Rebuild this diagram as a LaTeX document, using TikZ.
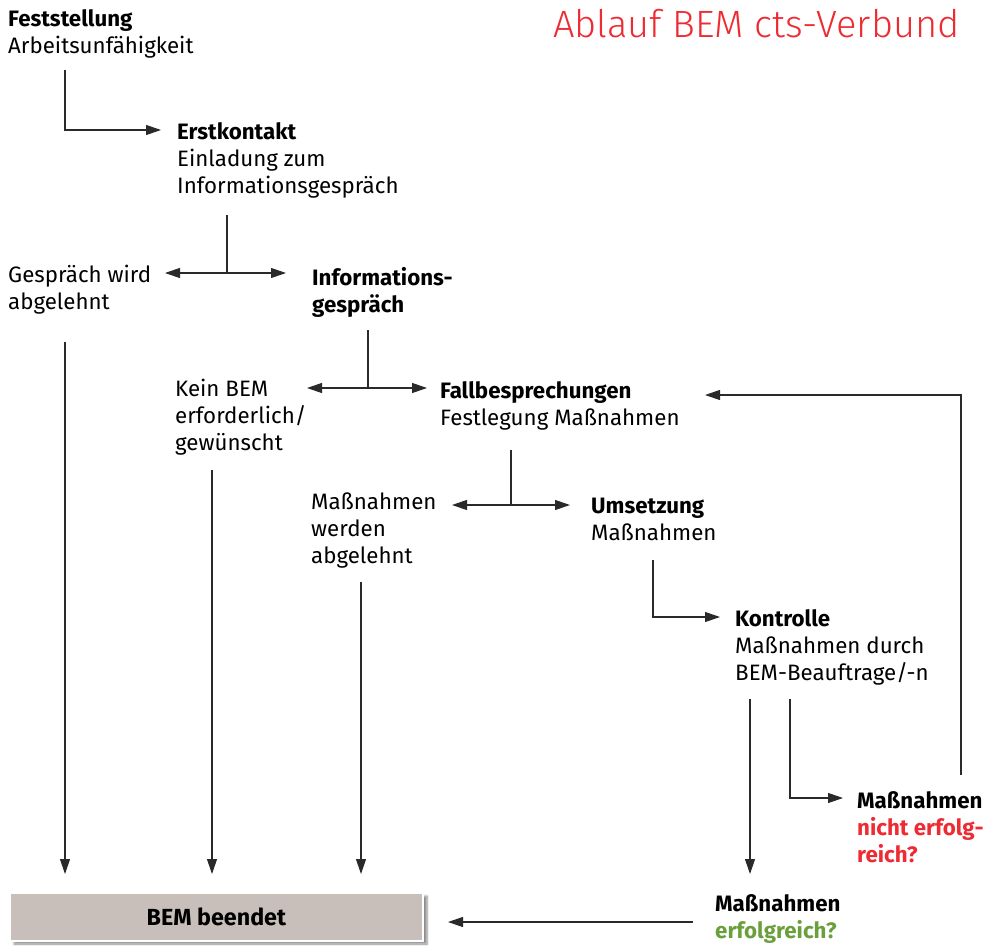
\documentclass[tikz,border=0pt]{standalone}
\usepackage{fontspec}
\setmainfont{Fira Sans}
\newfontfamily\titlefont{Fira Sans Light}
\usetikzlibrary{arrows.meta,shadows.blur}
\definecolor{bemred}{HTML}{EE2A33}
\definecolor{bemgreen}{HTML}{6A9F3B}
\definecolor{boxgray}{HTML}{C8BFBB}
\definecolor{linegray}{HTML}{2A2A2A}
\tikzset{
  txt/.style={anchor=base west, align=left, inner sep=0pt, font=\fontsize{22.3}{26.7}\selectfont},
  conn/.style={draw=linegray, line width=1.1pt},
  arr/.style={conn, -{Triangle[length=15pt,width=10pt]}},
  darr/.style={conn, {Triangle[length=15pt,width=10pt]}-{Triangle[length=15pt,width=10pt]}},
}
\begin{document}
\begin{tikzpicture}[x=1pt,y=-1pt]
\useasboundingbox (0,0) rectangle (1000,945);
% title
\node[anchor=base west, inner sep=0pt, font=\titlefont\fontsize{38}{45}\selectfont, text=bemred] (title) at (553,37) {Ablauf BEM cts-Verbund};
% text nodes (anchored at the baseline of their last line)
\node[txt] (fest) at (8,53) {\textbf{Feststellung}\\Arbeitsunfähigkeit};
\node[txt] (erst) at (177,193) {\textbf{Erstkontakt}\\Einladung zum\\Informationsgespräch};
\node[txt] (abgl) at (8,309) {Gespräch wird\\abgelehnt};
\node[txt] (info) at (312,312) {\textbf{Informations-}\\\textbf{gespräch}};
\node[txt] (kein) at (175,450) {Kein BEM\\erforderlich/\\gewünscht};
\node[txt] (fall) at (440,425) {\textbf{Fallbesprechungen}\\Festlegung Maßnahmen};
\node[txt] (mabg) at (311,563) {Maßnahmen\\werden\\abgelehnt};
\node[txt] (ums) at (591,540) {\textbf{Umsetzung}\\Maßnahmen};
\node[txt] (kon) at (735,680) {\textbf{Kontrolle}\\Maßnahmen durch\\BEM-Beauftrage/-n};
\node[txt] (nerf) at (857,862) {\textbf{Maßnahmen}\\\textbf{\textcolor{bemred}{nicht erfolg-}}\\\textbf{\textcolor{bemred}{reich?}}};
\node[txt] (erf) at (715,938) {\textbf{Maßnahmen}\\\textbf{\textcolor{bemgreen}{erfolgreich?}}};
\node[fill=boxgray, draw=white, line width=2pt, minimum width=413pt, minimum height=48pt, inner sep=0pt,
      font=\fontsize{23.3}{28}\selectfont,
      blur shadow={shadow xshift=4pt, shadow yshift=-3pt, shadow blur steps=6, shadow opacity=45}] (ende) at (216.5,917) {\textbf{BEM beendet}};
% coordinates
\coordinate (a1) at (65,70);
\coordinate (a1e) at (161,130);
\coordinate (t1) at (227,215);
\coordinate (t1m) at (227,273);
\coordinate (t1l) at (165,273);
\coordinate (t1r) at (286,273);
\coordinate (v1) at (65,342);
\coordinate (v1e) at (65,874);
\coordinate (t2) at (368,330);
\coordinate (t2m) at (368,388);
\coordinate (t2l) at (307,388);
\coordinate (t2r) at (427,388);
\coordinate (v2) at (212,470);
\coordinate (v2e) at (212,874);
\coordinate (t3) at (511,450);
\coordinate (t3m) at (511,505);
\coordinate (t3l) at (452,505);
\coordinate (t3r) at (570,505);
\coordinate (v3) at (361,582);
\coordinate (v3e) at (361,874);
\coordinate (a4) at (653,560);
\coordinate (a4e) at (720,617);
\coordinate (v5) at (750,699);
\coordinate (v5e) at (750,874);
\coordinate (a6) at (790,699);
\coordinate (a6e) at (843,798);
\coordinate (r1) at (961,775);
\coordinate (r1e) at (705,395);
\coordinate (b1) at (693,922);
\coordinate (b1e) at (448,922);
% connectors
\draw[arr] (a1) |- (a1e);
\draw[conn] (t1) -- (t1m);
\draw[darr] (t1l) -- (t1r);
\draw[arr] (v1) -- (v1e);
\draw[conn] (t2) -- (t2m);
\draw[darr] (t2l) -- (t2r);
\draw[arr] (v2) -- (v2e);
\draw[conn] (t3) -- (t3m);
\draw[darr] (t3l) -- (t3r);
\draw[arr] (v3) -- (v3e);
\draw[arr] (a4) |- (a4e);
\draw[arr] (v5) -- (v5e);
\draw[arr] (a6) |- (a6e);
\draw[arr] (r1) |- (r1e);
\draw[arr] (b1) -- (b1e);
\end{tikzpicture}
\end{document}
